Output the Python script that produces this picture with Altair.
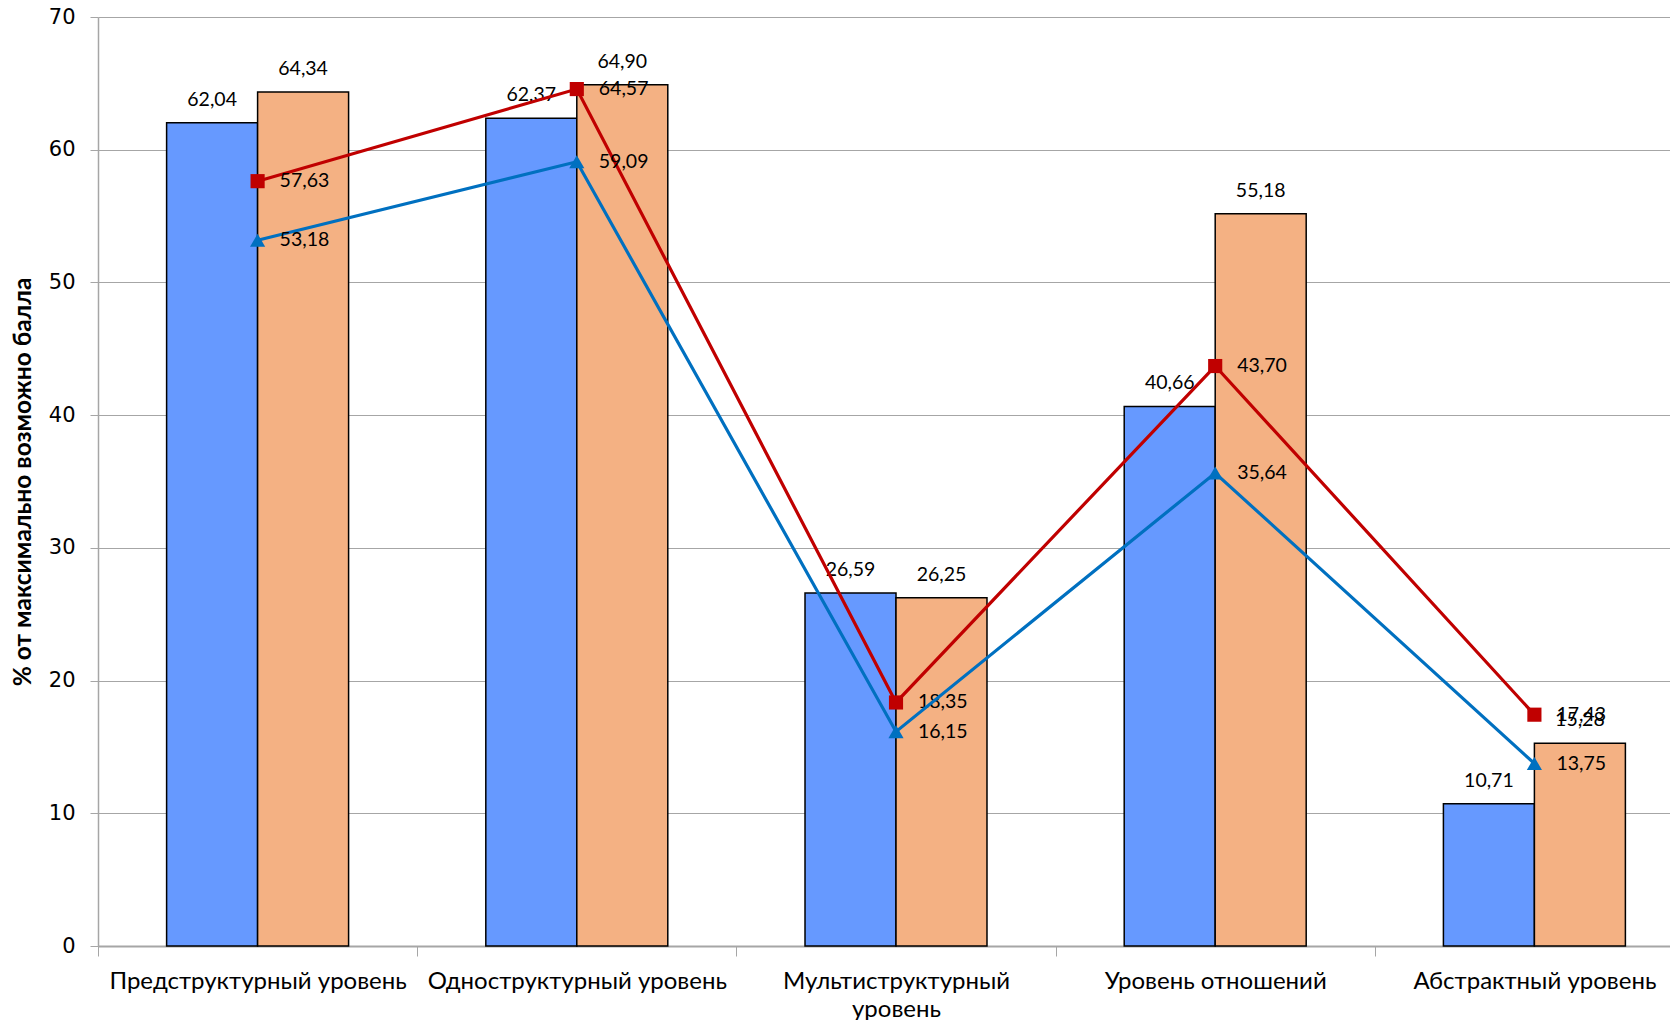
import altair as alt
import pandas as pd

categories = ["Предструктурный уровень", "Одноструктурный уровень",
              "Мультиструктурный уровень", "Уровень отношений", "Абстрактный уровень"]
bar_blue = [62.04, 62.37, 26.59, 40.66, 10.71]
bar_orange = [64.34, 64.90, 26.25, 55.18, 15.28]
line_red = [57.63, 64.57, 18.35, 43.70, 17.43]
line_blue = [53.18, 59.09, 16.15, 35.64, 13.75]
y_ticks = [0, 10, 20, 30, 40, 50, 60, 70]

bars_df = pd.DataFrame({
    "cat": categories * 2,
    "series": ["A"] * len(categories) + ["B"] * len(categories),
    "value": bar_blue + bar_orange,
})
red_df = pd.DataFrame({"cat": categories, "value": line_red})
blue_df = pd.DataFrame({"cat": categories, "value": line_blue})

fmt = "replace(format(datum.value, '.2f'), '.', ',')"
label_font = "Lato"

x_enc = alt.X(
    "cat:N", sort=categories,
    scale=alt.Scale(paddingInner=0, paddingOuter=0),
    axis=alt.Axis(
        title=None, labelAngle=0, tickBand="extent", grid=False,
        labelFont="Lato", labelFontSize=24, labelColor="#000000",
        labelPadding=13, labelLineHeight=28, labelLimit=400,
        labelExpr="datum.label == 'Мультиструктурный уровень' ? ['Мультиструктурный', 'уровень'] : datum.label",
        domainColor="#A6A6A6", domainWidth=2, tickColor="#A6A6A6", tickSize=10,
    ),
)
y_enc = alt.Y(
    "value:Q",
    scale=alt.Scale(domain=[0, 70], nice=False),
    axis=alt.Axis(
        values=y_ticks, title="% от максимально возможно балла",
        titleFont="Lato", titleFontSize=24.5, titleFontWeight="bold",
        titleColor="#000000", titlePadding=13,
        labelFont="DejaVu Sans", labelFontSize=21, labelColor="#000000", labelPadding=15,
        domainColor="#A6A6A6", domainWidth=1.5, tickColor="#A6A6A6", tickSize=8,
        gridColor="#A6A6A6", gridWidth=1.2,
    ),
)

base_bars = alt.Chart(bars_df).encode(
    x=x_enc, y=y_enc,
    xOffset=alt.XOffset("series:N", scale=alt.Scale(paddingInner=0, paddingOuter=0.754)),
)
bars = base_bars.mark_bar(stroke="#000000", strokeWidth=1.5).encode(
    color=alt.Color("series:N", scale=alt.Scale(domain=["A", "B"], range=["#6699FF", "#F4B183"]), legend=None)
)
bar_labels = base_bars.mark_text(
    baseline="bottom", dy=-13, fontSize=19.5, font=label_font, color="#000000"
).transform_calculate(lbl=fmt).encode(text="lbl:N")


def line_layers(df, color, shape, size):
    base = alt.Chart(df).encode(x=alt.X("cat:N", sort=categories), y="value:Q")
    ln = base.mark_line(color=color, strokeWidth=3.2)
    pt = base.mark_point(shape=shape, filled=True, opacity=1, size=size, color=color)
    tx = base.mark_text(
        align="left", baseline="middle", dx=22, fontSize=19.5, font=label_font, color="#000000"
    ).transform_calculate(lbl=fmt).encode(text="lbl:N")
    return [ln, pt, tx]


layers = ([bars, bar_labels]
          + line_layers(red_df, "#C00000", "square", 200)
          + line_layers(blue_df, "#0070C0", "triangle-up", 230))

chart = alt.layer(*layers).properties(
    width=1596, height=929,
    autosize=alt.AutoSizeParams(type="none"),
    padding={"left": 90, "top": 9, "right": -24, "bottom": 74},
).configure_view(stroke=None)

chart.save("out.html", embed_options={"renderer": "svg", "actions": False})
